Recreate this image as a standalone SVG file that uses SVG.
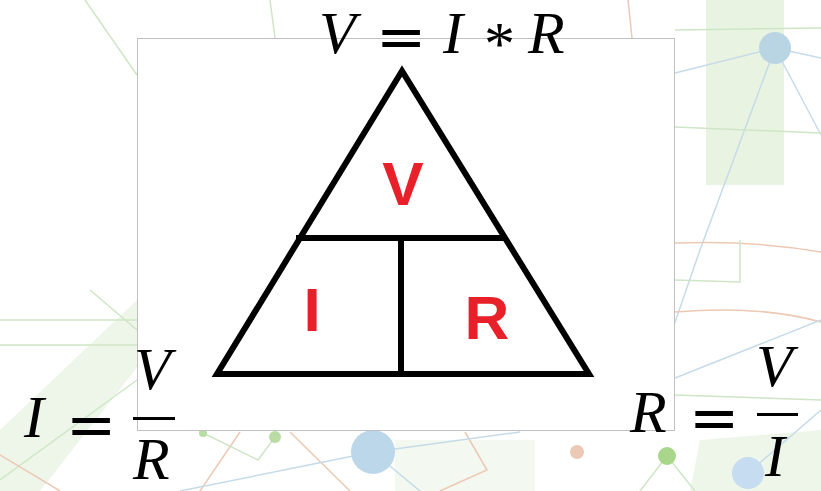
<svg xmlns="http://www.w3.org/2000/svg" width="821" height="491" viewBox="0 0 821 491">
<defs>
<style>
.bgl{fill:none;stroke-width:1.5}
.g{stroke:#cfe6c6}
.b{stroke:#c6dbe8}
.o{stroke:#ecc9b4}
.tri{fill:none;stroke:#000;stroke-width:6;stroke-linecap:square;stroke-linejoin:miter}
.lbl{font-family:"Liberation Sans",Arial,sans-serif;font-weight:bold;font-size:62px;fill:#e8202a;text-anchor:middle}
.m{font-family:"Liberation Serif","Times New Roman",serif;font-style:italic;font-size:60px;fill:#000}
.ast{font-family:"Liberation Serif","Times New Roman",serif;font-size:62px;fill:#000}
.eq{font-family:"DejaVu Sans",sans-serif;font-size:60px;fill:#000}
</style>
</defs>
<rect width="821" height="491" fill="#fff"/>
<g id="background">
<rect x="706" y="0" width="78" height="185" fill="#e8f3e2"/>
<polygon points="0,491 40,491 190,300 137,300 0,430" fill="#eef6ea"/>
<polygon points="690,491 821,491 821,430 700,440" fill="#eef6ea"/>
<rect x="395" y="440" width="140" height="51" fill="#f3f8f0"/>
<path class="bgl g" d="M85 0 L137 75"/>
<path class="bgl g" d="M270 0 L275 38"/>
<path class="bgl b" d="M675 73 L775 48 L821 58"/>
<path class="bgl b" d="M775 48 L700 250 L655 380"/>
<path class="bgl b" d="M775 48 L821 135"/>
<path class="bgl o" d="M628 0 L632 38"/>
<path class="bgl g" d="M675 30 L821 28"/>
<path class="bgl g" d="M675 127 L821 133"/>
<path class="bgl o" d="M675 243 Q750 240 821 252"/>
<path class="bgl o" d="M675 312 Q760 305 821 322"/>
<path class="bgl g" d="M675 280 L740 282 L740 240"/>
<path class="bgl b" d="M675 378 L821 320"/>
<path class="bgl g" d="M675 395 L821 400"/>
<path class="bgl g" d="M0 320 L137 320"/>
<path class="bgl g" d="M0 345 L137 345"/>
<path class="bgl g" d="M90 290 L137 330"/>
<path class="bgl g" d="M0 480 L137 380"/>
<path class="bgl o" d="M0 455 L60 491"/>
<path class="bgl o" d="M200 491 L240 432"/>
<path class="bgl o" d="M290 432 L350 491"/>
<path class="bgl o" d="M465 432 L487 470 L440 491"/>
<path class="bgl g" d="M203 433 L258 460 L275 437"/>
<path class="bgl b" d="M180 491 L373 452 L520 432"/>
<path class="bgl b" d="M373 452 L420 491"/>
<path class="bgl g" d="M667 456 L640 491"/>
<path class="bgl g" d="M667 456 L695 491"/>
<path class="bgl b" d="M748 473 L821 410"/>
<circle cx="775" cy="48" r="16" fill="#b9d5e3"/>
<circle cx="373" cy="452" r="22" fill="#bcd7ea"/>
<circle cx="748" cy="473" r="16" fill="#c6dcf0"/>
<circle cx="203" cy="433" r="4" fill="#b9dca4"/>
<circle cx="275" cy="437" r="6" fill="#b9dca4"/>
<circle cx="667" cy="456" r="9" fill="#a8d68a"/>
<circle cx="577" cy="452" r="7" fill="#ecc9b4"/>
</g>
<rect id="panel" x="137.5" y="38.5" width="537" height="392" fill="#fff" stroke="#c0c0c0" stroke-width="1"/>
<g id="connectors">
<polygon class="tri" points="402,71 217,374 589,374"/>
<line class="tri" x1="299" y1="238" x2="501" y2="238"/>
<line class="tri" x1="401" y1="238" x2="401" y2="374"/>
</g>
<g id="node-V"><text class="lbl" x="403" y="205">V</text></g>
<g id="node-I"><text class="lbl" x="312" y="331">I</text></g>
<g id="node-R"><text class="lbl" x="487" y="339">R</text></g>
<g id="formula-top">
<text class="m" x="319" y="53">V</text>
<text class="eq" x="376" y="57">=</text>
<text class="m" x="443" y="53">I</text>
<text class="ast" x="484" y="64">*</text>
<text class="m" x="528" y="53">R</text>
</g>
<g id="formula-left">
<text class="m" x="24" y="437">I</text>
<text class="eq" x="66" y="445">=</text>
<text class="m" x="134" y="389">V</text>
<rect x="133" y="417" width="42" height="3" fill="#000"/>
<text class="m" x="133" y="479">R</text>
</g>
<g id="formula-right">
<text class="m" x="630" y="432">R</text>
<text class="eq" x="689" y="438">=</text>
<text class="m" x="756" y="386">V</text>
<rect x="757" y="413" width="41" height="3" fill="#000"/>
<text class="m" x="765" y="476">I</text>
</g>
</svg>
